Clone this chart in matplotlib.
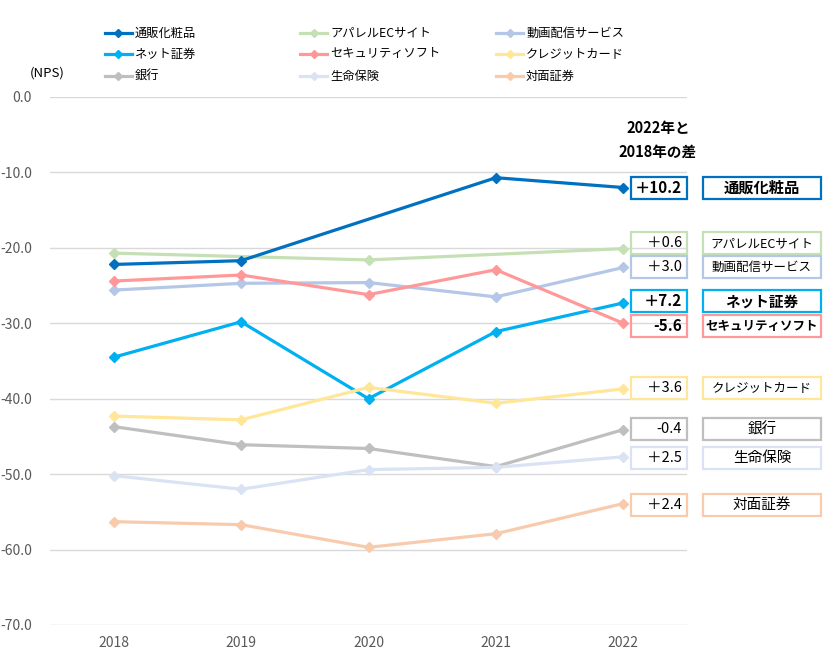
import numpy as np
import matplotlib
matplotlib.use('Agg')
import matplotlib.pyplot as plt
import matplotlib.transforms as mtransforms
from matplotlib.patches import Rectangle
from matplotlib.lines import Line2D

plt.rcParams['font.family'] = ['Noto Sans CJK JP', 'DejaVu Sans']

# ---- data (NPS) ----
years = ['2018', '2019', '2020', '2021', '2022']

names = ['通販化粧品', 'アパレルECサイト', '動画配信サービス',
         'ネット証券', 'セキュリティソフト', 'クレジットカード',
         '銀行', '生命保険', '対面証券']

tsuhan   = [-22.2, -21.7, np.nan, -10.7, -12.0]
apparel  = [-20.7, np.nan, -21.6, np.nan, -20.1]
douga    = [-25.6, -24.7, -24.6, -26.5, -22.6]
net_sec  = [-34.5, -29.8, -40.0, -31.1, -27.3]
security = [-24.4, -23.6, -26.2, -22.9, -30.0]
credit   = [-42.3, -42.8, -38.5, -40.6, -38.7]
bank     = [-43.7, -46.1, -46.6, -49.0, -44.1]
life     = [-50.2, -52.0, -49.4, -49.1, -47.7]
taimen   = [-56.3, -56.7, -59.7, -57.9, -53.9]

series = [tsuhan, apparel, douga, net_sec, security, credit, bank, life, taimen]

# ---- style ----
colors = ['#0070C0', '#C5E0B4', '#B4C7E7', '#00B0F0', '#FF9999',
          '#FFE699', '#BFBFBF', '#DAE3F3', '#F8CBAD']
bold = [True, False, False, True, True, False, False, False, False]
label_fs = [11, 9, 9, 10.5, 9, 9, 10.5, 10.5, 10.5]
# small vertical nudges of the right-hand boxes so they don't overlap
label_nudge = [0.0, 0.7, 0.0, 0.2, -0.4, 0.1, 0.1, -0.2, -0.2]

W, H = 823, 663
fig = plt.figure(figsize=(W / 100, H / 100), dpi=100)
ax = fig.add_axes([50 / W, 1 - 625 / H, 637 / W, 528 / H])

x = np.arange(len(years))
for i, (vals, c) in enumerate(zip(series, colors)):
    v = np.array(vals, dtype=float)
    ok = ~np.isnan(v)
    ax.plot(x[ok], v[ok], color=c, lw=2.3, marker='D', ms=5.5,
            zorder=10 if i == 0 else 3 + i, solid_joinstyle='round')

ax.set_xlim(-0.5, 4.5)
ax.set_ylim(-70, 0)
ax.set_yticks(np.arange(-70, 1, 10))
ax.set_yticklabels([f'{t:.1f}' for t in np.arange(-70, 1, 10)])
ax.set_xticks(x)
ax.set_xticklabels(years)
ax.tick_params(length=0, labelsize=10, labelcolor='#595959')
ax.tick_params(axis='y', pad=13)
ax.tick_params(axis='x', pad=8)
ax.grid(axis='y', color='#D9D9D9', lw=1)
ax.set_axisbelow(True)
for s in ax.spines.values():
    s.set_visible(False)

# ---- right-hand difference boxes ----
trans = mtransforms.blended_transform_factory(ax.transAxes, ax.transData)
box_h = 22 / (528 / 70)
for vals, name, c, b, dy, fs in zip(series, names, colors, bold,
                                     label_nudge, label_fs):
    d = vals[-1] - vals[0]
    txt = f'＋{d:.1f}' if d >= 0 else f'{d:.1f}'
    yc = vals[-1] + dy
    fw = 'bold' if b else 'normal'
    ax.add_patch(Rectangle((581 / 637, yc - box_h / 2), 56 / 637, box_h,
                           transform=trans, fill=False, ec=c, lw=1.6,
                           clip_on=False, zorder=20))
    ax.add_patch(Rectangle((653 / 637, yc - box_h / 2), 118 / 637, box_h,
                           transform=trans, fill=False, ec=c, lw=1.6,
                           clip_on=False, zorder=20))
    ax.text(632 / 637, yc, txt, transform=trans, ha='right', va='center',
            fontsize=11 if b else 10.5, fontweight=fw, color='black')
    ax.text(712 / 637, yc, name, transform=trans, ha='center', va='center',
            fontsize=fs, fontweight=fw, color='black')

fig.text(658 / W, 1 - 128 / H, '2022年と', ha='center', va='center',
         fontsize=10.5, fontweight='bold')
fig.text(658 / W, 1 - 152 / H, '2018年の差', ha='center', va='center',
         fontsize=10.5, fontweight='bold')

fig.text(47 / W, 1 - 73 / H, '(NPS)', ha='center', va='center', fontsize=9.5)

# ---- legend (3 columns, row-major) ----
col_x = [105, 300, 496]
row_y = [33, 54, 76]
for k, (name, c) in enumerate(zip(names, colors)):
    r, cidx = divmod(k, 3)
    x0 = col_x[cidx]
    yy = 1 - row_y[r] / H
    fig.add_artist(Line2D([x0 / W, (x0 + 27) / W], [yy, yy], color=c, lw=2.3,
                          transform=fig.transFigure))
    fig.add_artist(Line2D([(x0 + 13.5) / W], [yy], color=c, marker='D', ms=4,
                          transform=fig.transFigure))
    fig.text((x0 + 30) / W, yy, name, ha='left', va='center', fontsize=8.8)

fig.savefig('out.png', dpi=100)
